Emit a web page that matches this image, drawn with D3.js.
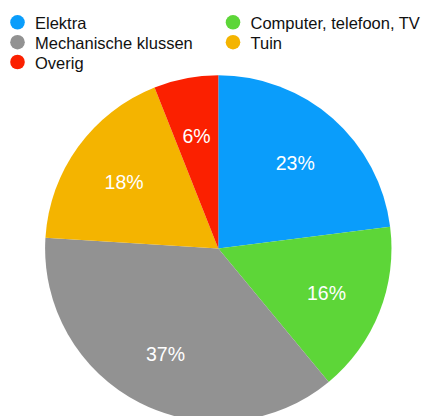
<!DOCTYPE html>
<html>
<head>
<meta charset="utf-8">
<script src="https://cdn.jsdelivr.net/npm/d3@7"></script>
<style>
  html, body { margin: 0; padding: 0; background: #ffffff; }
  svg { display: block; }
</style>
</head>
<body>
<svg id="chart" width="429" height="416"></svg>
<script>
const categories = ["Elektra", "Computer, telefoon, TV", "Mechanische klussen", "Tuin", "Overig"];
const values = [23, 16, 37, 18, 6];
const colors = ["#0a9dfb", "#5dd638", "#929292", "#f4b400", "#fb2000"];
const legendOrder = [0, 1, 2, 3, 4];

const svg = d3.select("#chart");
const cx = 218.3, cy = 248.5, R = 173.2;

const pie = d3.pie().sort(null).value(d => d);
const arcs = pie(values);
const arc = d3.arc().innerRadius(0).outerRadius(R);
const labelArc = d3.arc().innerRadius(R * 0.672).outerRadius(R * 0.672);

const g = svg.append("g").attr("transform", `translate(${cx},${cy})`);
g.selectAll("path.slice").data(arcs).enter().append("path")
  .attr("class", "slice")
  .attr("d", arc)
  .attr("fill", (d, i) => colors[i]);

g.selectAll("text.pct").data(arcs).enter().append("text")
  .attr("class", "pct")
  .attr("transform", d => { const c = labelArc.centroid(d); return `translate(${c[0]},${c[1] + 1.5})`; })
  .attr("text-anchor", "middle")
  .attr("dominant-baseline", "central")
  .attr("fill", "#ffffff")
  .style("font-family", "'Liberation Sans', Arial, sans-serif")
  .style("font-size", "19.5px")
  .text(d => d.data + "%");

// Legend
const legendCols = [17.5, 233];
const legendRows = [22.3, 42.2, 62];
const legend = svg.append("g");
legendOrder.forEach((ci, k) => {
  const col = k % 2, row = Math.floor(k / 2);
  const x = legendCols[col], y = legendRows[row];
  legend.append("circle").attr("cx", x).attr("cy", y).attr("r", 7.3).attr("fill", colors[ci]);
  legend.append("text")
    .attr("x", x + 17.5).attr("y", y + 0.5)
    .attr("dominant-baseline", "central")
    .attr("fill", "#111111")
    .style("font-family", "'Liberation Sans', Arial, sans-serif")
    .style("font-size", "16.5px")
    .text(categories[ci]);
});
</script>
</body>
</html>
